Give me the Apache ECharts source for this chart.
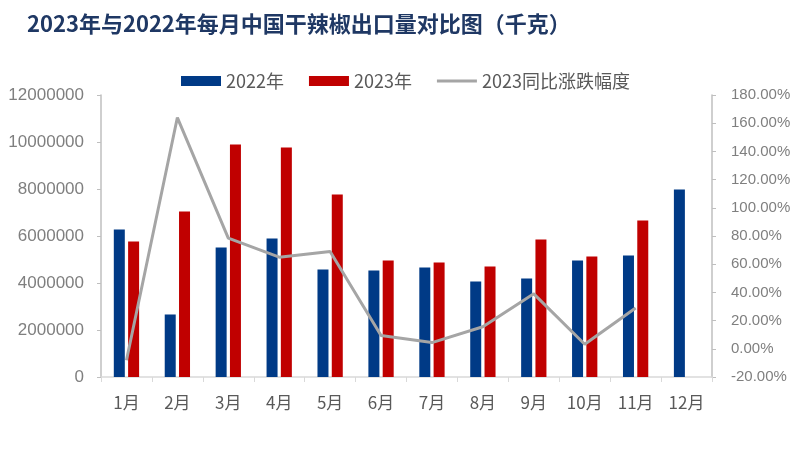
<!DOCTYPE html>
<html>
<head>
<meta charset="utf-8">
<script src="https://cdn.jsdelivr.net/npm/echarts@6/dist/echarts.min.js"></script>
<style>html,body{margin:0;padding:0;background:#fff}#c{width:798px;height:472px}</style>
</head>
<body>
<div id="c"></div>
<script>
const months = ['1月','2月','3月','4月','5月','6月','7月','8月','9月','10月','11月','12月'];
const v2022 = [6280000, 2660000, 5510000, 5890000, 4570000, 4530000, 4660000, 4060000, 4190000, 4960000, 5170000, 7980000];
const v2023 = [5770000, 7040000, 9890000, 9770000, 7770000, 4960000, 4870000, 4700000, 5850000, 5130000, 6660000, null];
const yoy = [-8.1, 164, 78.5, 65, 69, 9.5, 4.4, 15.6, 39, 3.2, 29, null];

const chart = echarts.init(document.getElementById('c'), null, {renderer: 'canvas'});
chart.setOption({
  animation: false,
  backgroundColor: '#fff',
  title: {
    text: '2023年与2022年每月中国干辣椒出口量对比图（千克）',
    left: 22, top: 8,
    textStyle: {color: '#1F3864', fontSize: 22, fontWeight: 'bold', fontFamily: '"Noto Sans CJK SC", sans-serif'}
  },
  legend: {
    top: 67, left: 176,
    itemWidth: 40, itemHeight: 10, itemGap: 25,
    textStyle: {color: '#595959', fontSize: 18, fontFamily: '"Noto Sans CJK SC", sans-serif'},
    data: [
      {name: '2022年', icon: 'rect'},
      {name: '2023年', icon: 'rect'},
      {name: '2023同比涨跌幅度', icon: 'path://M0,0 L0.01,0 Z M0,3.5 L40,3.5 L40,6.5 L0,6.5 Z M0,10 L0.01,10 Z'}
    ]
  },
  grid: {left: 101, right: 86, top: 95, bottom: 95, containLabel: false},
  xAxis: {
    type: 'category', data: months,
    axisLine: {lineStyle: {color: '#D9D9D9', width: 1.5}},
    axisTick: {show: true, length: 5, lineStyle: {color: '#D9D9D9'}},
    axisLabel: {color: '#595959', fontSize: 17, margin: 17, fontFamily: '"Noto Sans CJK SC", sans-serif'}
  },
  yAxis: [
    {
      type: 'value', min: 0, max: 12000000, interval: 2000000,
      axisLine: {show: true, lineStyle: {color: '#BFBFBF', width: 1.5}},
      axisTick: {show: true, length: 4, lineStyle: {color: '#BFBFBF'}},
      splitLine: {show: false},
      axisLabel: {color: '#7F7F7F', fontSize: 17, margin: 17, fontFamily: '"Liberation Sans", sans-serif',
        formatter: v => String(v)}
    },
    {
      type: 'value', min: -20, max: 180, interval: 20,
      position: 'right',
      axisLine: {show: true, lineStyle: {color: '#BFBFBF', width: 1.5}},
      axisTick: {show: true, length: 4, lineStyle: {color: '#BFBFBF'}},
      splitLine: {show: false},
      axisLabel: {color: '#7F7F7F', fontSize: 15, margin: 19, fontFamily: '"Liberation Sans", sans-serif',
        formatter: v => v.toFixed(2) + '%'}
    }
  ],
  series: [
    {name: '2022年', type: 'bar', data: v2022, barWidth: 11, barGap: '30%', itemStyle: {color: '#003A86'}},
    {name: '2023年', type: 'bar', data: v2023, barWidth: 11, itemStyle: {color: '#C00000'}},
    {name: '2023同比涨跌幅度', type: 'line', yAxisIndex: 1, data: yoy, showSymbol: false, symbol: 'none',
      lineStyle: {color: '#A5A5A5', width: 3}, itemStyle: {color: '#A5A5A5'}}
  ]
});
</script>
</body>
</html>
